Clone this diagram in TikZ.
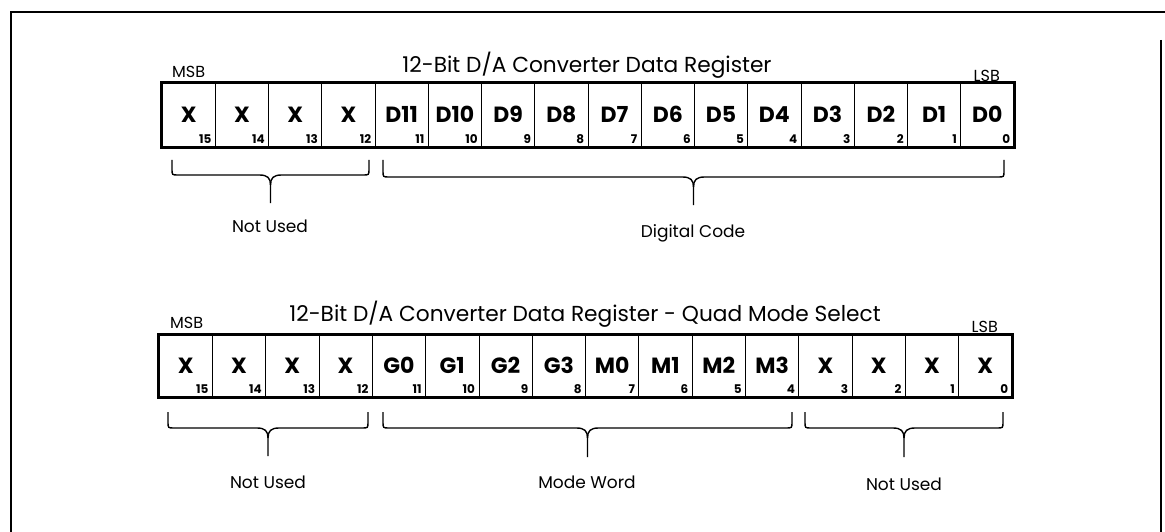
\documentclass[tikz,border=0pt]{standalone}
\usepackage{fontspec}
\setmainfont{Poppins}
\begin{document}
\begin{tikzpicture}[x=1pt,y=-1pt,
  frame/.style={line width=1.5pt},
  regbox/.style={line width=2.6pt},
  cell/.style={draw,line width=0.7pt,inner sep=0pt},
  celltext/.style={anchor=base,inner sep=0pt,font=\fontsize{22}{22}\selectfont\bfseries},
  bitno/.style={anchor=base east,inner sep=0pt,font=\fontsize{12}{12}\selectfont\bfseries},
  endlab/.style={inner sep=0pt,font=\fontsize{16}{16}\selectfont},
  title/.style={anchor=base,inner sep=0pt,font=\fontsize{21.7}{21.7}\selectfont},
  bracelab/.style={anchor=base,inner sep=0pt,font=\fontsize{17}{17}\selectfont},
  bracepath/.style={line width=1.4pt}
]
\useasboundingbox (0,0) rectangle (1165,532);
% outer frame
\draw[frame] (11,532) -- (11,12) -- (1165,12);
\draw[frame] (1161,40) -- (1161,532);

% ---------- register 1 ----------
\foreach \lab [count=\i from 0] in {X,X,X,X,D11,D10,D9,D8,D7,D6,D5,D4,D3,D2,D1,D0}{
  \pgfmathtruncatemacro\b{15-\i}
  \node[cell,minimum width=53.25pt,minimum height=64pt] (a\b) at ({162+53.25*\i+26.625},115) {};
  \node[celltext] (at\b) at ({162+53.25*\i+26.625},123) {\lab};
  \node[bitno] (an\b) at ([xshift=-4pt,yshift=4pt]a\b.south east) {\b};
}
\draw[regbox] (a15.north west) rectangle (a0.south east);
\node[title] (t1) at (587,73) {12-Bit D/A Converter Data Register};
\node[endlab,anchor=base west] (msb1) at (172,78) {MSB};
\node[endlab,anchor=base east] (lsb1) at (1000,82) {LSB};

% ---------- register 2 ----------
\foreach \lab [count=\i from 0] in {X,X,X,X,G0,G1,G2,G3,M0,M1,M2,M3,X,X,X,X}{
  \pgfmathtruncatemacro\b{15-\i}
  \node[cell,minimum width=53.31pt,minimum height=62pt] (b\b) at ({159+53.31*\i+26.655},366) {};
  \node[celltext] (bt\b) at ({159+53.31*\i+26.655},373) {\lab};
  \node[bitno] (bn\b) at ([xshift=-4pt,yshift=4pt]b\b.south east) {\b};
}
\draw[regbox] (b15.north west) rectangle (b0.south east);
\node[title] (t2) at (585,321) {12-Bit D/A Converter Data Register - Quad Mode Select};
\node[endlab,anchor=base west] (msb2) at (170,328) {MSB};
\node[endlab,anchor=base east] (lsb2) at (998,332) {LSB};

% ---------- braces ----------
% #1 xl, #2 xr, #3 ytop, #4 yh, #5 ybot
\newcommand{\regbrace}[5]{%
  \pgfmathsetmacro\xc{(#1+#2)/2}
  \draw[bracepath] (#1,#3) -- (#1,#4-6) .. controls (#1,#4) .. (#1+6,#4)
     -- (\xc-11,#4) .. controls (\xc-3,#4) and (\xc,#4+3) .. (\xc,#4+10) -- (\xc,#5);
  \draw[bracepath] (#2,#3) -- (#2,#4-6) .. controls (#2,#4) .. (#2-6,#4)
     -- (\xc+11,#4) .. controls (\xc+3,#4) and (\xc,#4+3) .. (\xc,#4+10);
}
\regbrace{172}{369}{160}{175}{203}
\regbrace{383}{1004}{160}{177}{205}
\regbrace{168}{368}{412}{428}{456}
\regbrace{383}{792}{412}{428}{457}
\regbrace{805}{1003}{412}{428}{457}

\node[bracelab] (l1) at (270,232) {Not Used};
\node[bracelab] (l2) at (693,237) {Digital Code};
\node[bracelab] (l3) at (268,488) {Not Used};
\node[bracelab] (l4) at (587,488) {Mode Word};
\node[bracelab] (l5) at (904,490) {Not Used};
\end{tikzpicture}
\end{document}
